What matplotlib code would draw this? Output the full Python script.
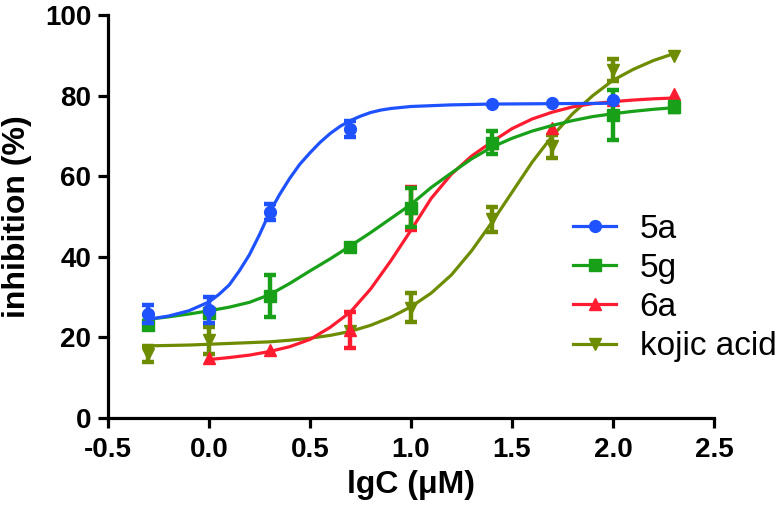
import numpy as np
import matplotlib
matplotlib.use("Agg")
import matplotlib.pyplot as plt
from matplotlib.lines import Line2D
from matplotlib.ticker import FormatStrFormatter

plt.rcParams['font.family'] = ['Liberation Sans', 'DejaVu Sans']
plt.rcParams['axes.unicode_minus'] = False

# measured points (lgC, mean inhibition, error)
x_5a = [-0.3, 0.0, 0.3, 0.7, 1.4, 1.7, 2.0]
y_5a = [25.8, 26.8, 51.2, 71.7, 77.9, 78.1, 78.9]
e_5a = [2.2, 3.3, 2.0, 1.9, 0.0, 0.0, 0.0]

x_5g = [-0.3, 0.0, 0.3, 0.7, 1.0, 1.4, 2.0, 2.3]
y_5g = [23.0, 26.0, 30.3, 42.5, 52.2, 68.3, 75.2, 77.2]
e_5g = [1.0, 0.0, 5.2, 0.8, 4.8, 2.8, 6.2, 1.2]

x_6a = [0.0, 0.3, 0.7, 1.0, 1.4, 1.7, 2.0, 2.3]
y_6a = [14.8, 16.9, 21.8, 52.0, 68.3, 72.0, 78.9, 80.5]
e_6a = [0.0, 0.0, 4.5, 5.3, 0.0, 0.0, 0.0, 0.0]

x_kj = [-0.3, 0.0, 0.7, 1.0, 1.4, 1.7, 2.0, 2.3]
y_kj = [15.9, 19.3, 21.5, 27.4, 49.3, 67.4, 86.4, 89.8]
e_kj = [1.9, 3.3, 0.0, 3.5, 3.1, 2.9, 2.8, 0.0]

# fitted curves
cx_5a = [-0.3, -0.2, -0.1, 0.0, 0.05, 0.1, 0.15, 0.2, 0.25, 0.3, 0.35, 0.4, 0.45, 0.5,
         0.55, 0.6, 0.65, 0.7, 0.75, 0.8, 0.85, 0.9, 1.0, 1.1, 1.2, 1.4, 1.7, 2.0]
cy_5a = [24.5, 25.3, 26.6, 28.8, 30.7, 33.0, 36.5, 40.5, 45.5, 51.0, 55.5, 59.5, 63.0, 65.8,
         68.4, 70.6, 72.4, 73.8, 74.9, 75.8, 76.4, 76.8, 77.3, 77.5, 77.7, 77.9, 78.0, 78.1]

cx_5g = [-0.3, -0.2, -0.1, 0.0, 0.1, 0.2, 0.3, 0.4, 0.5, 0.6, 0.7, 0.8, 0.9, 1.0,
         1.1, 1.2, 1.3, 1.4, 1.5, 1.6, 1.7, 1.8, 1.9, 2.0, 2.1, 2.2, 2.3]
cy_5g = [24.5, 25.1, 25.8, 26.6, 27.5, 28.7, 30.6, 33.4, 36.5, 39.5, 42.7, 46.0, 49.5, 53.0,
         57.2, 60.8, 64.3, 67.2, 69.4, 71.2, 72.6, 73.8, 74.8, 75.5, 76.1, 76.6, 77.0]

cx_6a = [0.0, 0.1, 0.2, 0.3, 0.4, 0.5, 0.6, 0.7, 0.8, 0.9, 1.0,
         1.1, 1.2, 1.3, 1.4, 1.5, 1.6, 1.7, 1.8, 1.9, 2.0, 2.1, 2.2, 2.3]
cy_6a = [14.5, 15.0, 15.6, 16.5, 17.7, 19.5, 22.5, 26.3, 32.0, 39.0, 46.6,
         54.5, 60.5, 65.0, 68.5, 71.8, 74.2, 75.9, 77.2, 78.0, 78.5, 78.9, 79.2, 79.4]

cx_kj = [-0.3, -0.2, -0.1, 0.0, 0.1, 0.2, 0.3, 0.4, 0.5, 0.6, 0.7, 0.8, 0.9, 1.0,
         1.1, 1.2, 1.3, 1.4, 1.5, 1.6, 1.7, 1.8, 1.9, 2.0, 2.1, 2.2, 2.3]
cy_kj = [17.9, 18.0, 18.1, 18.3, 18.5, 18.7, 18.9, 19.3, 19.8, 20.5, 21.5, 23.0, 25.0, 27.6,
         31.0, 35.5, 41.5, 48.5, 56.0, 63.5, 70.0, 75.5, 80.0, 83.8, 86.5, 88.7, 90.4]

labels = ["5a", "5g", "6a", "kojic acid"]
colors = ['#1e52ff', '#18a018', '#ff1c30', '#6e8c00']
markers = ['o', 's', '^', 'v']

series = [
    (x_5a, y_5a, e_5a, cx_5a, cy_5a),
    (x_5g, y_5g, e_5g, cx_5g, cy_5g),
    (x_6a, y_6a, e_6a, cx_6a, cy_6a),
    (x_kj, y_kj, e_kj, cx_kj, cy_kj),
]

fig = plt.figure(figsize=(7.81, 5.21), dpi=100)
ax = fig.add_axes([108 / 781, 103 / 521, 606 / 781, 403 / 521])

# 5a on top, kojic acid at the bottom
for i in range(4):
    xs, ys, es, cx, cy = series[i]
    xs = np.array(xs); ys = np.array(ys); es = np.array(es)
    z = 10 - 2 * i
    ax.plot(cx, cy, color=colors[i], lw=2.3, zorder=z)
    ax.plot(xs, ys, linestyle='none', marker=markers[i], ms=8.5, color=colors[i],
            mec=colors[i], zorder=z + 1)
    m = es > 0
    ax.errorbar(xs[m], ys[m], yerr=es[m], fmt='none', ecolor=colors[i],
                elinewidth=3.2, capsize=4.5, capthick=3.2, zorder=z + 1)

ax.set_xlim(-0.5, 2.5)
ax.set_ylim(0, 100)
ax.set_xticks(np.arange(-0.5, 2.6, 0.5))
ax.set_yticks(np.arange(0, 101, 20))
ax.xaxis.set_major_formatter(FormatStrFormatter('%.1f'))

for s in ['top', 'right']:
    ax.spines[s].set_visible(False)
for s in ['left', 'bottom']:
    ax.spines[s].set_linewidth(2.3)

ax.tick_params(width=2.3, length=7, labelsize=20)
ax.tick_params(axis='x', pad=7)
ax.tick_params(axis='y', pad=5)
for lab in ax.get_xticklabels() + ax.get_yticklabels():
    lab.set_fontweight('bold')

ax.set_xlabel("lgC (μM)", fontsize=23, fontweight='bold', labelpad=5)
ax.set_ylabel("inhibition (%)", fontsize=23, fontweight='bold', labelpad=9)

handles = [Line2D([], [], color=colors[i], lw=2.3, marker=markers[i], ms=8.5)
           for i in range(4)]
leg = fig.legend(handles, labels, loc='center left',
                 bbox_to_anchor=(573 / 781, 1 - 288 / 521),
                 frameon=False, fontsize=24, handlelength=1.3, handletextpad=0.7,
                 labelspacing=0.25, borderpad=0, borderaxespad=0, numpoints=1)

fig.savefig("out.png", dpi=100)
